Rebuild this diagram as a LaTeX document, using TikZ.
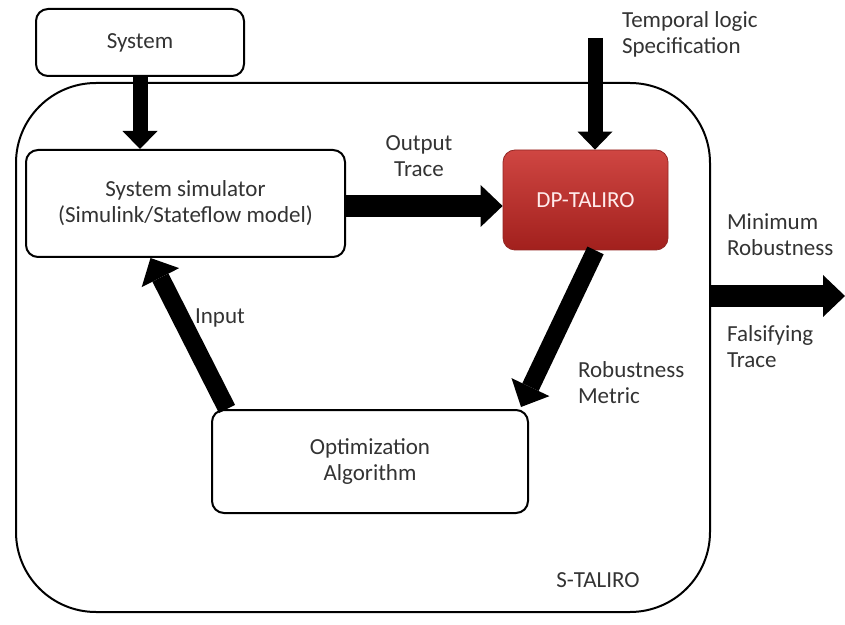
\documentclass[tikz,border=0pt]{standalone}
\usepackage{fontspec}
\setmainfont{Carlito}
\usepackage{tikz}
\usetikzlibrary{arrows.meta,positioning,calc}

\definecolor{dpred}{HTML}{B8302C}
\definecolor{dptop}{HTML}{CF4642}
\definecolor{dpbot}{HTML}{A2201D}
\definecolor{txtgray}{HTML}{333333}

\begin{document}
\begin{tikzpicture}[x=0.5pt, y=-0.5pt,
  font=\fontsize{11.5}{13}\selectfont, text=txtgray,
  box/.style={draw, line width=1pt, rounded corners=6pt, fill=white, align=center},
  fat/.style={line width=#1, -{Triangle[length=9pt, width=17.5pt, line width=0pt]}},
  fatter/.style={line width=11pt, -{Triangle[length=11pt, width=21pt, line width=0pt]}}]
\useasboundingbox (0,0) rectangle (845,625);
\node[draw, line width=1pt, rounded corners=40pt, minimum width=347pt, minimum height=264.5pt] (stal) at (363,347.5) {};
\node at (598,580) (stalname) {S-TALIRO};
\node[box, minimum width=104pt, minimum height=33.5pt] (sys) at (140,42.5) {System};
\node[box, minimum width=159.5pt, minimum height=53.5pt] (sim) at (185.5,203.5) {System simulator\\(Simulink/Stateflow model)};
\node[draw=dpred!80!black, line width=0.4pt, rounded corners=6pt, top color=dptop, bottom color=dpbot,
  text=white!92!red, minimum width=82.5pt, minimum height=50pt] (dp) at (585.5,200) {DP-TALIRO};
\node[box, minimum width=158pt, minimum height=51.5pt] (opt) at (370,461.5) {Optimization\\Algorithm};
\node[align=left, anchor=west] (spec) at (615,34) {Temporal logic\\Specification};
\node[align=center] (outlbl) at (419,156) {Output\\Trace};
\node[align=left, anchor=west] (minlbl) at (720,235) {Minimum\\Robustness};
\node[align=left, anchor=west] (fallbl) at (720,347) {Falsifying\\Trace};
\node[anchor=west] (inlbl) at (188,318) {Input};
\node[align=left, anchor=west] (roblbl) at (571,383) {Robustness\\Metric};
\coordinate (specin) at (595,38);
\coordinate (out) at (845,296);
% arrows
\draw[fat=7.5pt] (sys.south) -- (sys.south |- sim.north);
\draw[fat=7.5pt] (specin) -- (specin |- dp.north);
\draw[fatter] (sim.east |- 0,206) -- (dp.west |- 0,206);
\draw[fat=9pt, -{Triangle[length=11pt, width=21pt, line width=0pt]}] ([xshift=5pt]dp.south) -- ([xshift=-4pt, yshift=1pt]opt.north east);
\draw[fat=9pt, -{Triangle[length=11pt, width=21pt, line width=0pt]}] ([xshift=8pt]opt.north west) -- ([xshift=-17.5pt]sim.south);
\draw[fatter] (stal.east |- out) -- (out);
\end{tikzpicture}
\end{document}
